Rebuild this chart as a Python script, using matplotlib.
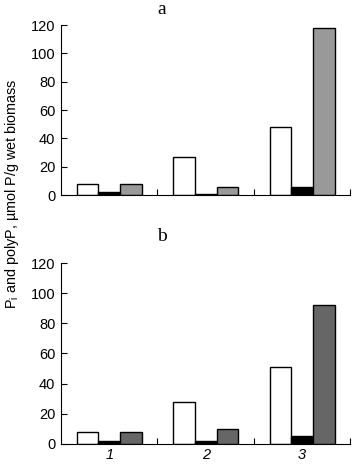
import numpy as np
import matplotlib.pyplot as plt

plt.rcParams['font.family'] = ['Liberation Sans', 'DejaVu Sans']

# =============================================================================
# data
# =============================================================================
groups = ['1', '2', '3']
# panel a
a_white = [8, 27, 48]
a_black = [2, 1, 6]
a_gray = [8, 5.5, 118]
# panel b
b_white = [8, 28, 51]
b_black = [2, 2, 5]
b_gray = [8, 10, 92]

# =============================================================================
# plotting
# =============================================================================
fig = plt.figure(figsize=(3.59, 4.65), dpi=100)
ax_a = fig.add_axes([0.170, 0.5806, 0.806, 0.3656])
ax_b = fig.add_axes([0.170, 0.0452, 0.806, 0.3892])

x = np.arange(len(groups))
w = 0.224

def draw(ax, white, black, gray, gray_color, show_labels):
    ax.bar(x - w, white, w, color='white', edgecolor='black', linewidth=1.0)
    ax.bar(x, black, w, color='black', edgecolor='black', linewidth=1.0)
    ax.bar(x + w, gray, w, color=gray_color, edgecolor='black', linewidth=1.0)
    ax.set_xlim(-0.5, 2.5)
    ax.set_ylim(0, 120)
    ax.set_yticks(range(0, 121, 20))
    ax.spines['top'].set_visible(False)
    ax.spines['right'].set_visible(False)
    ax.tick_params(axis='y', direction='in', length=4, labelsize=10.5, pad=4)
    ax.set_xticks([0.5, 1.5, 2.5])
    ax.set_xticklabels([])
    ax.tick_params(axis='x', which='major', direction='in', length=4)
    ax.set_xticks(x, minor=True)
    if show_labels:
        ax.set_xticklabels(groups, minor=True, fontstyle='italic', fontsize=10.5)
    ax.tick_params(axis='x', which='minor', length=0, pad=3)

draw(ax_a, a_white, a_black, a_gray, '#999999', False)
draw(ax_b, b_white, b_black, b_gray, '#666666', True)

fig.text(162 / 359, 1 - 10 / 465, 'a', family='Liberation Serif', fontsize=14,
         ha='center', va='center')
fig.text(162 / 359, 1 - 236 / 465, 'b', family='Liberation Serif', fontsize=14,
         ha='center', va='center')
fig.text(12 / 359, 1 - 194 / 465, 'P$_\\mathregular{i}$ and polyP, µmol P/g wet biomass',
         rotation=90, fontsize=10.4, ha='center', va='center')

plt.savefig('out.png', dpi=100)
